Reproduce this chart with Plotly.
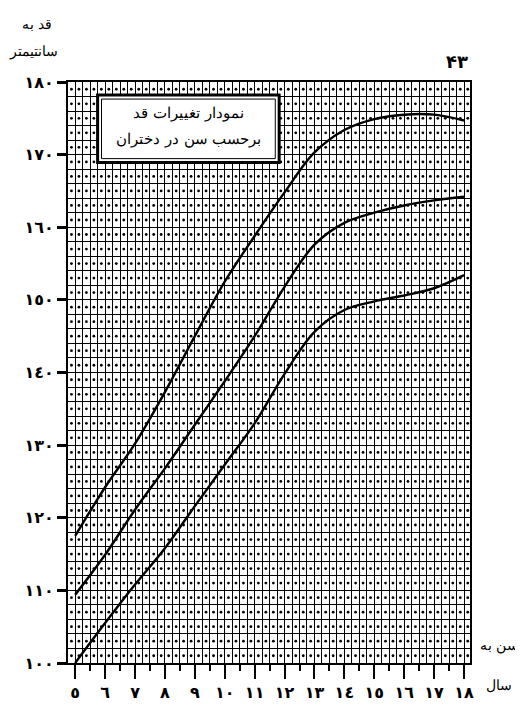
import numpy as np
import plotly.graph_objects as go

# ---- data ----
ages = [5, 6, 7, 8, 9, 10, 11, 12, 13, 14, 15, 16, 17, 18]
upper = [117.5, 124.2, 130.2, 137.3, 145.0, 152.5, 158.8, 164.8, 170.3, 173.4, 174.9, 175.5, 175.5, 174.7]
middle = [109.4, 114.9, 121.1, 126.8, 132.8, 138.8, 145.0, 151.8, 157.6, 160.6, 162.0, 163.0, 163.7, 164.2]
lower = [100.0, 105.5, 110.8, 115.8, 121.6, 127.3, 133.0, 139.8, 145.6, 148.6, 149.8, 150.6, 151.6, 153.4]

x_tick_vals = list(range(5, 19))
x_tick_text = ["٥", "٦", "٧", "٨", "٩", "١٠", "١١", "١٢", "١٣", "١٤", "١٥", "١٦", "١٧", "١٨"]
y_tick_vals = list(range(100, 181, 10))
y_tick_text = ["١٠٠", "١١٠", "١٢٠", "١٣٠", "١٤٠", "١٥٠", "١٦٠", "١٧٠", "١٨٠"]
half_year_ticks = [v + 0.5 for v in range(5, 18)]

title_line1 = "نمودار تغییرات قد"
title_line2 = "برحسب سن در دختران"

XR = [4.76, 18.2]
YR = [100, 180]

fig = go.Figure()

# dots in centre of each grid cell
cx = np.arange(4.875, 18.2, 0.25)
cy = np.arange(101, 180, 2)
gx, gy = np.meshgrid(cx, cy)
fig.add_trace(go.Scatter(x=gx.ravel(), y=gy.ravel(), mode="markers",
                         marker=dict(size=2.8, color="black"), hoverinfo="skip",
                         showlegend=False))

for s in (upper, middle, lower):
    fig.add_trace(go.Scatter(x=ages, y=s, mode="lines",
                             line=dict(color="black", width=2.4, shape="spline", smoothing=1.0),
                             showlegend=False))

# invisible trace on overlay axis for half-year ticks
fig.add_trace(go.Scatter(x=[XR[0]], y=[YR[0]], xaxis="x2", mode="markers",
                         marker=dict(opacity=0), showlegend=False, hoverinfo="skip"))

tickfont = dict(family="DejaVu Sans", size=16, color="black", weight="bold")

fig.update_layout(
    width=523, height=706,
    margin=dict(l=60, r=61, t=74, b=40),
    paper_bgcolor="white", plot_bgcolor="white",
    xaxis=dict(range=XR, tickmode="array", tickvals=x_tick_vals, ticktext=x_tick_text,
               ticks="outside", ticklen=14, tickwidth=2, tickcolor="black",
               showgrid=True, gridcolor="black", gridwidth=1.2,
               minor=dict(tick0=5, dtick=0.25, showgrid=True, gridcolor="black", gridwidth=1, ticks=""),
               showline=True, linecolor="black", linewidth=2, mirror=True,
               zeroline=False, tickfont=tickfont),
    xaxis2=dict(range=XR, overlaying="x", side="bottom", tickmode="array",
                tickvals=half_year_ticks, ticks="outside", ticklen=7, tickwidth=2,
                tickcolor="black", showticklabels=False, showgrid=False, zeroline=False,
                showline=False),
    yaxis=dict(range=YR, tickmode="array", tickvals=y_tick_vals, ticktext=y_tick_text,
               ticks="outside", ticklen=9, tickwidth=3, tickcolor="black",
               showgrid=True, gridcolor="black", gridwidth=1,
               minor=dict(tick0=100, dtick=2, showgrid=True, gridcolor="black", gridwidth=1, ticks=""),
               showline=True, linecolor="black", linewidth=2, mirror=True,
               zeroline=False, tickfont=tickfont),
    showlegend=False,
)

# title box with double border
bx0, bx1, by0, by1 = 5.75, 11.82, 168.9, 178.2
fig.add_shape(type="rect", xref="x", yref="y", x0=bx0, x1=bx1, y0=by0, y1=by1,
              fillcolor="white", line=dict(color="black", width=3), layer="above")
fig.add_shape(type="rect", xref="x", yref="y", x0=bx0 + 0.13, x1=bx1 - 0.13,
              y0=by0 + 0.55, y1=by1 - 0.55,
              fillcolor="rgba(0,0,0,0)", line=dict(color="black", width=1), layer="above")
fig.add_annotation(x=(bx0 + bx1) / 2, y=175.8, xref="x", yref="y", text=title_line1,
                   showarrow=False, font=dict(family="DejaVu Serif", size=15, color="black"))
fig.add_annotation(x=(bx0 + bx1) / 2, y=172.1, xref="x", yref="y", text=title_line2,
                   showarrow=False, font=dict(family="DejaVu Serif", size=15, color="black"))

# axis captions and page number
cap = dict(family="DejaVu Serif", size=14, color="black")
fig.add_annotation(x=0.0, y=1, xref="paper", yref="paper", xanchor="right", yanchor="bottom",
                   xshift=-14, yshift=48, text="قد به", showarrow=False, font=cap)
fig.add_annotation(x=0.0, y=1, xref="paper", yref="paper", xanchor="right", yanchor="bottom",
                   xshift=-8, yshift=20, text="سانتیمتر", showarrow=False, font=cap)
fig.add_annotation(x=1.0, y=0, xref="paper", yref="paper", xanchor="left", yanchor="middle",
                   xshift=8, yshift=18, text="سن به", showarrow=False, font=cap)
fig.add_annotation(x=1.0, y=0, xref="paper", yref="paper", xanchor="left", yanchor="middle",
                   xshift=14, yshift=-22, text="سال", showarrow=False, font=cap)
fig.add_annotation(x=1.0, y=1, xref="paper", yref="paper", xanchor="right", yanchor="bottom",
                   xshift=0, yshift=8, text="۴۳", showarrow=False,
                   font=dict(family="DejaVu Sans", size=18, color="black", weight="bold"))

fig.write_html("out.html")
